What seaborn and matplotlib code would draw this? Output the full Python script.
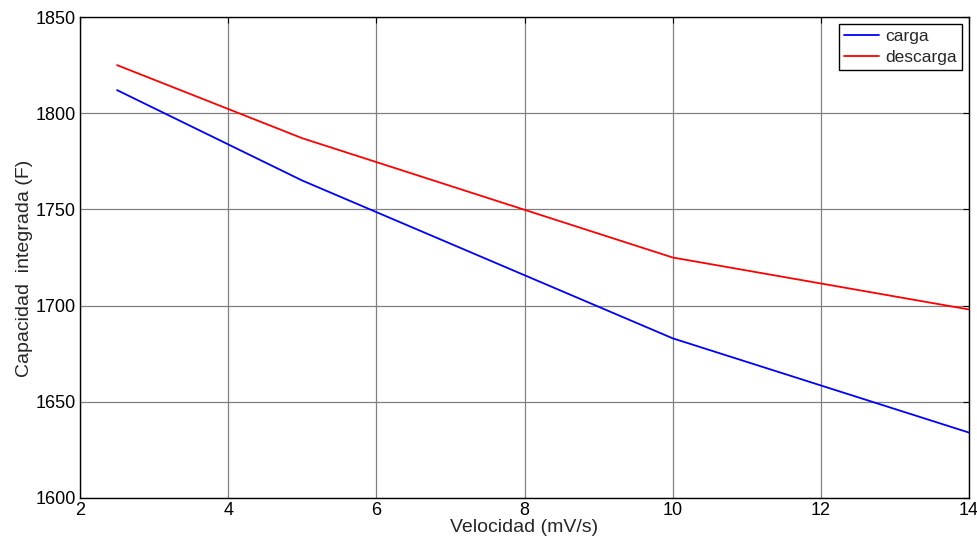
import pandas as pd
import seaborn as sns
import matplotlib
matplotlib.use("Agg")
import matplotlib.pyplot as plt

# values
velocidad = [2.5, 5, 10, 14]
carga = [1812, 1765, 1683, 1634]
descarga = [1825, 1787, 1725, 1698]

data = pd.concat([
    pd.DataFrame({"Velocidad": velocidad, "Capacidad": carga, "serie": "carga"}),
    pd.DataFrame({"Velocidad": velocidad, "Capacidad": descarga, "serie": "descarga"}),
])

sns.set_style("white")
plt.rcParams["font.family"] = ["Liberation Sans", "DejaVu Sans"]

fig = plt.figure(figsize=(9.77, 5.4), dpi=100)
ax = fig.add_axes([0.0819, 0.0778, 0.9099, 0.8907])

sns.lineplot(
    data=data,
    x="Velocidad",
    y="Capacidad",
    hue="serie",
    palette={"carga": "#0000ff", "descarga": "#ff0000"},
    linewidth=1.3,
    ax=ax,
)

ax.set_xlim(2, 14)
ax.set_ylim(1600, 1850)
ax.set_xticks(range(2, 15, 2))
ax.set_yticks(range(1600, 1851, 50))
ax.grid(True, color="#808080", linewidth=0.9)
ax.tick_params(direction="in", length=4, top=True, right=True, labelsize=13, colors="black", pad=3)
for s in ax.spines.values():
    s.set_color("black")
    s.set_linewidth(1.0)

ax.set_xlabel("Velocidad (mV/s)", fontsize=14, labelpad=0)
ax.set_ylabel("Capacidad  integrada (F)", fontsize=14)

leg = ax.legend(
    loc="upper right",
    fontsize=12.5,
    frameon=True,
    fancybox=False,
    handlelength=2.0,
    handletextpad=0.35,
    borderpad=0.3,
    labelspacing=0.3,
    borderaxespad=0.4,
)
leg.get_frame().set_edgecolor("black")
leg.get_frame().set_linewidth(1.0)
leg.get_frame().set_alpha(1)

# ylabel sits closer to the tick labels than the default spot
ax.yaxis.set_label_coords(-0.053, 0.478)

plt.savefig("out.png", dpi=100)
